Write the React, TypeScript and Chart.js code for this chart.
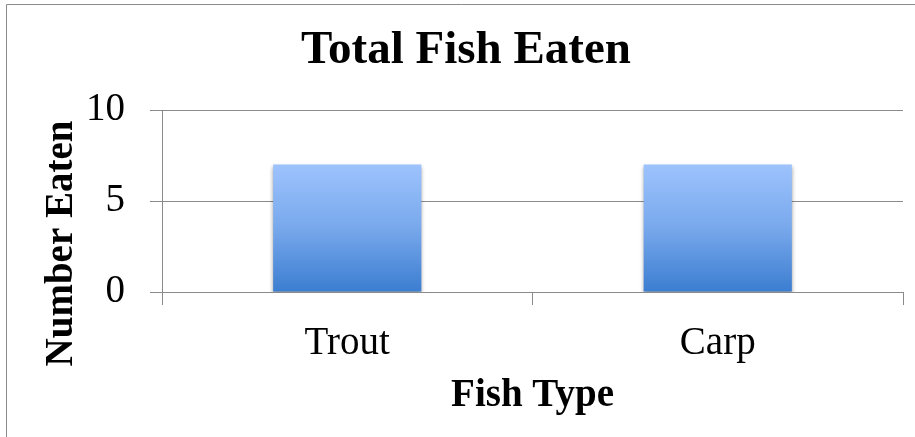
import React, { useEffect, useRef } from "react";
import { Chart, registerables } from "chart.js";

Chart.register(...registerables);

const categories = ["Trout", "Carp"];
const numberEaten = [7, 7];
const yTicks = [0, 5, 10];
const chartTitle = "Total Fish Eaten";
const xTitle = "Fish Type";
const yTitle = "Number Eaten";

const FONT = "'Liberation Serif', 'Times New Roman', serif";
const GRID = "#8a8a8a";

export default function App() {
  const ref = useRef<HTMLCanvasElement | null>(null);

  useEffect(() => {
    if (!ref.current) return;

    const frame = {
      id: "frame",
      beforeDraw(chart: any) {
        const c = chart.ctx;
        c.save();
        c.fillStyle = "#ffffff";
        c.fillRect(0, 0, chart.width, chart.height);
        c.strokeStyle = GRID;
        c.lineWidth = 1;
        c.beginPath();
        c.moveTo(6.5, chart.height + 5);
        c.lineTo(6.5, 4.5);
        c.lineTo(chart.width + 5, 4.5);
        c.stroke();
        c.restore();
      },
    };

    const shadow = {
      id: "barShadow",
      beforeDatasetsDraw(chart: any) {
        const c = chart.ctx;
        c.save();
        c.shadowColor = "rgba(0,0,0,0.4)";
        c.shadowBlur = 4;
        c.shadowOffsetX = 0;
        c.shadowOffsetY = 2;
      },
      afterDatasetsDraw(chart: any) {
        chart.ctx.restore();
      },
    };

    const yTitlePlugin = {
      id: "yTitle",
      afterDraw(chart: any) {
        const c = chart.ctx;
        c.save();
        c.translate(72, 243.5);
        c.rotate(-Math.PI / 2);
        c.font = `bold 39px ${FONT}`;
        c.fillStyle = "#000";
        c.textAlign = "center";
        c.textBaseline = "alphabetic";
        c.fillText(yTitle, 0, 0);
        c.restore();
      },
    };

    const chart = new Chart(ref.current, {
      type: "bar",
      data: {
        labels: categories,
        datasets: [
          {
            label: yTitle,
            data: numberEaten,
            categoryPercentage: 0.4,
            barPercentage: 1,
            borderWidth: 0,
            backgroundColor: (ctx: any) => {
              const ch = ctx.chart;
              if (!ch.chartArea) return "#6a9ee6";
              const ys = ch.scales.y;
              const top = ys.getPixelForValue(ctx.raw ?? 0);
              const bottom = ys.getPixelForValue(0);
              const g = ch.ctx.createLinearGradient(0, top, 0, bottom);
              g.addColorStop(0, "#9dc3fd");
              g.addColorStop(0.5, "#78a8ec");
              g.addColorStop(1, "#3b7dd0");
              return g;
            },
          },
        ],
      },
      options: {
        animation: false,
        responsive: false,
        maintainAspectRatio: false,
        layout: { padding: { left: 29, right: 12, top: 0, bottom: 0 } },
        plugins: {
          legend: { display: false },
          tooltip: { enabled: false },
          title: {
            display: true,
            text: chartTitle,
            color: "#000",
            font: { family: FONT, size: 47, weight: "bold", lineHeight: 1.2 },
            padding: { top: 23, bottom: 30.6 },
          },
        },
        scales: {
          x: {
            offset: true,
            grid: {
              display: true,
              offset: true,
              drawOnChartArea: false,
              drawTicks: true,
              tickLength: 13,
              color: GRID,
              lineWidth: 1,
            },
            border: { display: true, color: GRID, width: 1 },
            ticks: {
              color: "#000",
              font: { family: FONT, size: 39, lineHeight: 1.2 },
              padding: 15,
              maxRotation: 0,
            },
            title: {
              display: true,
              text: xTitle,
              color: "#000",
              font: { family: FONT, size: 39, weight: "bold", lineHeight: 1.2 },
              padding: { top: 0, bottom: 18 },
            },
            afterFit(scale: any) {
              scale.height = 145;
            },
          },
          y: {
            min: 0,
            max: 10,
            afterBuildTicks(scale: any) {
              scale.ticks = yTicks.map((v) => ({ value: v }));
            },
            grid: {
              color: GRID,
              lineWidth: 1,
              drawTicks: true,
              tickLength: 12,
            },
            border: { display: true, color: GRID, width: 1 },
            ticks: {
              color: "#000",
              font: { family: FONT, size: 39, lineHeight: 1.2 },
              padding: 25,
            },
            afterFit(scale: any) {
              scale.width = 133;
            },
          },
        },
      },
      plugins: [frame, shadow, yTitlePlugin],
    });

    return () => chart.destroy();
  }, []);

  return (
    <div style={{ position: "fixed", left: 0, top: 0, width: 915, height: 437 }}>
      <canvas ref={ref} width={915} height={437} style={{ display: "block" }} />
    </div>
  );
}
